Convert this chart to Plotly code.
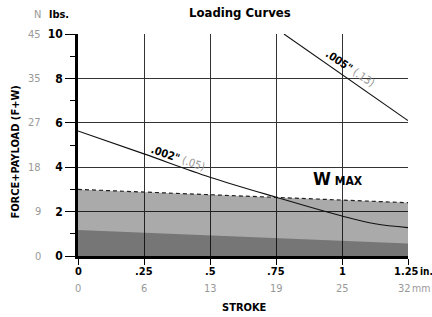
import plotly.graph_objects as go

FONT = "Liberation Sans Narrow, DejaVu Sans Condensed, Arial Narrow, sans-serif"

# Data
stroke_in = [0, 0.25, 0.5, 0.75, 1.0, 1.25]
stroke_in_labels = ["0", ".25", ".5", ".75", "1", "1.25"]
stroke_mm = ["0", "6", "13", "19", "25", "32"]
lbs_ticks = [0, 2, 4, 6, 8, 10]
n_ticks = ["0", "9", "18", "27", "35", "45"]

wmax_x = [0, 1.25]
wmax_y = [3.0, 2.4]
inner_x = [0, 1.25]
inner_y = [1.17, 0.56]

c002_x = [0, 0.25, 0.5, 0.75, 1.0, 1.125, 1.25]
c002_y = [5.63, 4.6, 3.55, 2.65, 1.8, 1.45, 1.28]
c005_x = [0.78, 1.25]
c005_y = [10.0, 6.1]

fig = go.Figure()
fig.add_trace(go.Scatter(x=wmax_x, y=wmax_y, mode="lines", fill="tozeroy",
                         fillcolor="rgba(0,0,0,0.335)", line=dict(width=0),
                         hoverinfo="skip"))
fig.add_trace(go.Scatter(x=inner_x, y=inner_y, mode="lines", fill="tozeroy",
                         fillcolor="rgba(0,0,0,0.30)", line=dict(width=0),
                         hoverinfo="skip"))
fig.add_trace(go.Scatter(x=wmax_x, y=wmax_y, mode="lines",
                         line=dict(color="#222", width=1.2, dash="4px,3px")))
fig.add_trace(go.Scatter(x=c002_x, y=c002_y, mode="lines", line_shape="spline",
                         line=dict(color="#111", width=1.1)))
fig.add_trace(go.Scatter(x=c005_x, y=c005_y, mode="lines",
                         line=dict(color="#111", width=1.1)))

ann = []
# y tick labels (N, gray)
for v, t in zip(lbs_ticks, n_ticks):
    ann.append(dict(x=-0.106, xref="paper", y=v, yref="y", text=t, showarrow=False,
                    xanchor="right", yanchor="middle",
                    font=dict(family=FONT, size=11, color="#999")))
# x tick labels
for i, (v, lab, t) in enumerate(zip(stroke_in, stroke_in_labels, stroke_mm)):
    last = i == len(stroke_in) - 1
    ann.append(dict(x=v, xref="x", y=-0.072, yref="paper", text="<b>%s</b>" % lab,
                    showarrow=False, xanchor="center", yanchor="middle",
                    xshift=-2 if last else 0,
                    font=dict(family=FONT, size=11, color="black")))
    ann.append(dict(x=v, xref="x", y=-0.146, yref="paper", text=t,
                    showarrow=False, xanchor="center", yanchor="middle",
                    xshift=-4 if last else 0,
                    font=dict(family=FONT, size=11, color="#999")))
ann.append(dict(x=1.25, xref="x", y=-0.072, yref="paper", text="<b>in.</b>",
                showarrow=False, xanchor="left", yanchor="middle", xshift=10,
                font=dict(family=FONT, size=10, color="black")))
ann.append(dict(x=1.25, xref="x", y=-0.146, yref="paper", text="mm",
                showarrow=False, xanchor="left", yanchor="middle", xshift=2,
                font=dict(family=FONT, size=10.5, color="#999")))
# headers
ann.append(dict(x=-0.107, xref="paper", y=1.09, yref="paper", text="N", showarrow=False,
                xanchor="right", yanchor="middle", font=dict(family=FONT, size=11, color="#999")))
ann.append(dict(x=-0.058, xref="paper", y=1.09, yref="paper", text="<b>lbs.</b>", showarrow=False,
                xanchor="center", yanchor="middle", font=dict(family=FONT, size=11, color="black")))
ann.append(dict(x=0.49, xref="paper", y=1.097, yref="paper", text="<b>Loading Curves</b>",
                showarrow=False, xanchor="center", yanchor="middle",
                font=dict(family=FONT, size=13, color="black")))
ann.append(dict(x=-0.188, xref="paper", y=0.47, yref="paper", text="<b>FORCE+PAYLOAD (F+W)</b>",
                showarrow=False, textangle=-90, xanchor="center", yanchor="middle",
                font=dict(family=FONT, size=11, color="black")))
ann.append(dict(x=0.504, xref="paper", y=-0.23, yref="paper", text="<b>STROKE</b>",
                showarrow=False, xanchor="center", yanchor="middle",
                font=dict(family=FONT, size=11, color="black")))
# curve labels
ann.append(dict(x=1.03, xref="x", y=8.45, yref="y",
                text='<b>.005"</b> <span style="color:#999">(.13)</span>',
                showarrow=False, textangle=34, xanchor="center", yanchor="middle",
                font=dict(family=FONT, size=11, color="black")))
ann.append(dict(x=0.38, xref="x", y=4.41, yref="y",
                text='<b>.002"</b> <span style="color:#999">(.05)</span>',
                showarrow=False, textangle=19, xanchor="center", yanchor="middle",
                font=dict(family=FONT, size=11, color="black")))
ann.append(dict(x=0.985, xref="x", y=2.95, yref="y",
                text='<b><span style="font-size:18px">W</span> MAX</b>',
                showarrow=False, xanchor="center", yanchor="bottom",
                font=dict(family=FONT, size=12, color="black")))

fig.update_layout(
    width=432, height=317,
    margin=dict(l=78, r=24, t=34, b=61),
    plot_bgcolor="white", paper_bgcolor="white",
    showlegend=False,
    annotations=ann,
    font=dict(family=FONT, size=11, color="black"),
)
fig.update_xaxes(range=[0, 1.25], tickvals=stroke_in, showticklabels=False,
                 showgrid=True, gridcolor="#333", gridwidth=1,
                 showline=True, linecolor="black", linewidth=2.5,
                 ticks="outside", ticklen=6, tickcolor="black", tickwidth=1,
                 zeroline=False, layer="above traces", fixedrange=True)
fig.update_yaxes(range=[0, 10], tickvals=lbs_ticks,
                 ticktext=["<b>%d</b>" % v for v in lbs_ticks],
                 tickfont=dict(family=FONT, size=12, color="black"),
                 showgrid=True, gridcolor="#333", gridwidth=1,
                 showline=True, linecolor="black", linewidth=2.5,
                 ticks="outside", ticklen=10, tickcolor="black", tickwidth=1,
                 minor=dict(tickvals=[1, 3, 5, 7, 9], ticks="outside", ticklen=5,
                            tickcolor="black", showgrid=False),
                 zeroline=False, layer="above traces", fixedrange=True)

fig.write_html("out.html", config={"displayModeBar": False},
               post_script="document.body.style.margin='0';document.body.style.overflow='hidden';")
